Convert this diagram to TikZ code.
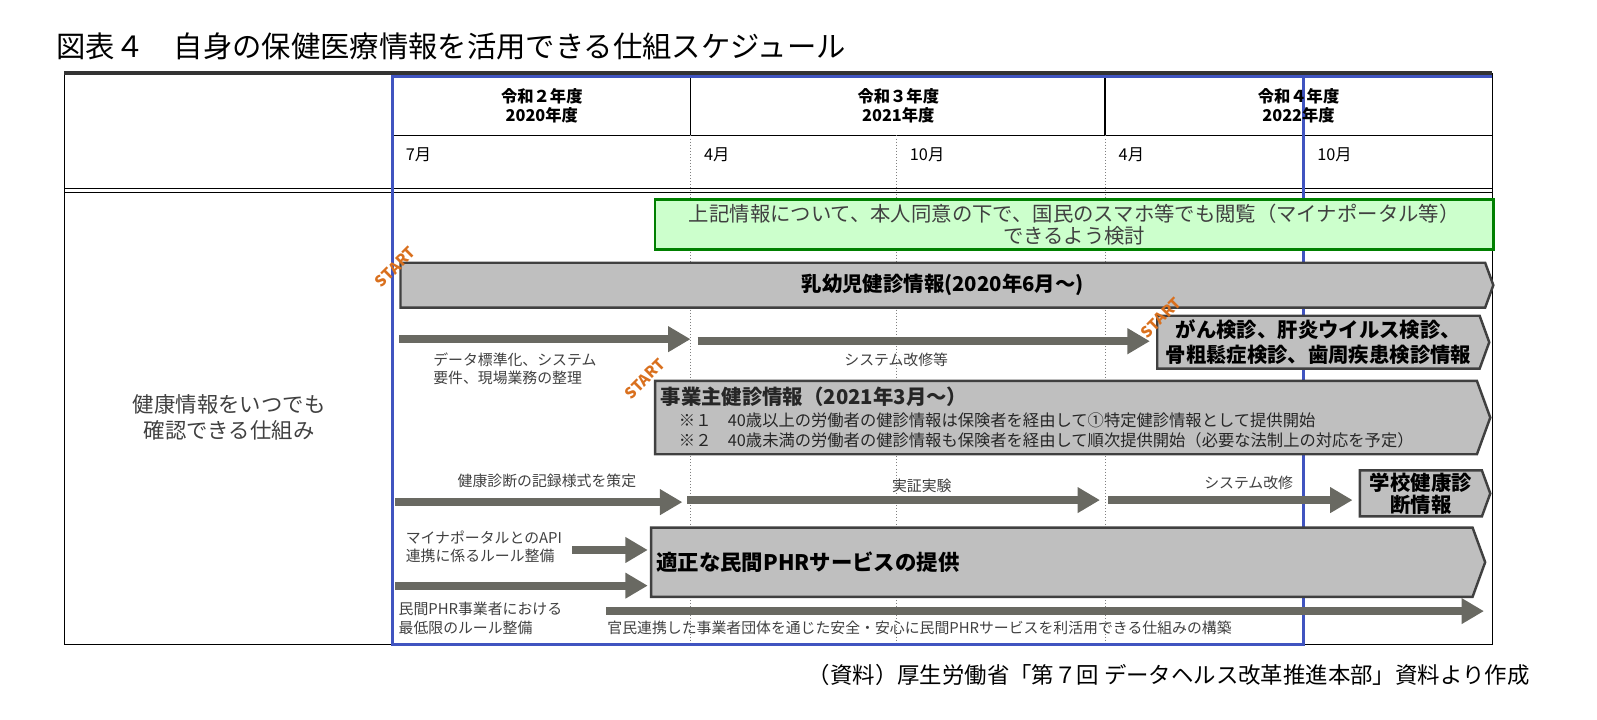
\documentclass[tikz,border=0pt]{standalone}
\usepackage{fontspec}
\setmainfont{Noto Sans CJK JP}
\usetikzlibrary{shapes, arrows.meta}
\definecolor{bargray}{RGB}{191,191,191}
\definecolor{barline}{RGB}{64,64,64}
\definecolor{arrowgray}{RGB}{105,105,98}
\definecolor{notegray}{RGB}{64,64,64}
\definecolor{stamporange}{RGB}{217,112,30}
\definecolor{planblue}{RGB}{64,84,192}
\definecolor{lightgreen}{RGB}{204,255,204}
\definecolor{boxgreen}{RGB}{0,128,0}

\begin{document}
\begin{tikzpicture}[x=0.5pt, y=-0.5pt,
        bar/.style = {draw=barline, fill=bargray, line width=1.2pt, signal, signal to=east, signal pointer angle=140, anchor=west, inner sep=2pt, font=\bfseries\fontsize{10}{12.5}\selectfont},
        flow/.style = {arrowgray, line width=4pt, -{Triangle[length=11pt, width=12pt]}},
        note/.style = {text=notegray, font=\fontsize{7.3}{9}\selectfont, align=left, inner sep=0pt},
        stamp/.style = {text=stamporange, font=\bfseries\fontsize{7.5}{7.5}\selectfont, rotate=45, inner sep=0pt},
        year/.style = {font=\bfseries\fontsize{8}{9.5}\selectfont, align=center},
        month/.style = {font=\fontsize{8}{10}\selectfont, anchor=west, inner sep=0pt},
        grid/.style = {densely dotted, gray, line width=0.5pt}]
                \useasboundingbox (0, 0) rectangle (1568, 706);

                \node[anchor=west, inner sep=0pt, font=\fontsize{14.4}{16}\selectfont] at (55, 46) (Title) {図表４　自身の保健医療情報を活用できる仕組スケジュール};

                \draw[line width=0.5pt] (63, 72) rectangle (1465, 633);
                \draw[line width=2pt, black!80] (63, 72) -- (1465, 72);
                \draw[line width=0.5pt] (385, 133) -- (1465, 133);
                \draw[line width=0.5pt] (63, 185) -- (1465, 185);
                \draw[line width=0.5pt] (63, 189) -- (1465, 189);
                \draw[line width=0.6pt] (678, 75) -- (678, 133);
                \draw[line width=0.6pt] (1085, 75) -- (1085, 133);
                \draw[grid] (678, 133) -- (678, 633);
                \draw[grid] (880, 133) -- (880, 633);
                \draw[grid] (1085, 133) -- (1085, 633);
                \draw[planblue, line width=1.5pt] (385, 75) rectangle (1280, 633);
                \draw[planblue, line width=1.5pt] (1280, 75) -- (1465, 75);

                \node[year] at (532, 104) (Y2020) {令和２年度\\2020年度};
                \node[year] at (882, 104) (Y2021) {令和３年度\\2021年度};
                \node[year] at (1275, 104) (Y2022) {令和４年度\\2022年度};
                \node[month] at (398, 152) (M7) {7月};
                \node[month] at (691, 152) (M4a) {4月};
                \node[month] at (893, 152) (M10a) {10月};
                \node[month] at (1098, 152) (M4b) {4月};
                \node[month] at (1293, 152) (M10b) {10月};

                \node[text=notegray, align=center, font=\fontsize{10.5}{13}\selectfont] at (225, 410) (Row) {健康情報をいつでも\\確認できる仕組み};

                \node[draw=boxgreen, fill=lightgreen, line width=1.2pt, anchor=west, minimum width=411.5pt, minimum height=24.5pt, inner sep=0pt, align=center, text=notegray, font=\fontsize{10}{10.5}\selectfont] at (642, 220.5) (Green) {上記情報について、本人同意の下で、国民のスマホ等でも閲覧（マイナポータル等）\\できるよう検討};

                \node[bar, minimum width=536.5pt, minimum height=22pt] at (392, 280) (Infant) {乳幼児健診情報(2020年6月～)};
                \node[bar, minimum width=163pt, minimum height=26pt, inner sep=1pt, align=center] at (1135, 336) (Cancer) {がん検診、肝炎ウイルス検診、\\骨粗鬆症検診、歯周疾患検診情報};
                \node[bar, minimum width=410pt, minimum height=36pt, text width=398pt, align=left, font=\fontsize{8}{9.8}\selectfont, text=black!85] at (642, 410) (Employer) {{\bfseries\fontsize{10}{12}\selectfont 事業主健診情報（2021年3月～）}\\[1pt]\hspace*{9pt}※１　40歳以上の労働者の健診情報は保険者を経由して①特定健診情報として提供開始\\\hspace*{9pt}※２　40歳未満の労働者の健診情報も保険者を経由して順次提供開始（必要な法制上の対応を予定）};
                \node[bar, minimum width=64pt, minimum height=22.5pt, inner sep=1pt, align=center, font=\bfseries\fontsize{10}{11}\selectfont] at (1334, 484.5) (School) {学校健康診\\断情報};
                \node[bar, minimum width=409.5pt, minimum height=34pt, text width=398pt, align=left, font=\bfseries\fontsize{10.5}{12}\selectfont] at (638, 552) (PHR) {適正な民間PHRサービスの提供};

                \node[stamp] at (388, 262) (S1) {START};
                \node[stamp] at (1140, 312) (S2) {START};
                \node[stamp] at (633, 372) (S3) {START};

                \node[note, anchor=west] at (425, 362) (L1) {データ標準化、システム\\要件、現場業務の整理};
                \node[note] at (880, 353) (L2) {システム改修等};
                \node[note] at (537, 472) (L3) {健康診断の記録様式を策定};
                \node[note] at (905, 477) (L4) {実証実験};
                \node[note] at (1226, 474) (L5) {システム改修};
                \node[note, anchor=west] at (398, 537) (L6) {マイナポータルとのAPI\\連携に係るルール整備};
                \node[note, anchor=west] at (391, 607) (L7) {民間PHR事業者における\\最低限のルール整備};
                \node[note, anchor=west] at (596, 616) (L8) {官民連携した事業者団体を通じた安全・安心に民間PHRサービスを利活用できる仕組みの構築};

                \coordinate (A1s) at (392, 333);
                \coordinate (A1e) at (678, 333);
                \coordinate (A2s) at (685, 335);
                \coordinate (A3s) at (388, 493);
                \coordinate (A3e) at (670, 493);
                \coordinate (A4s) at (675, 491);
                \coordinate (A4e) at (1080, 491);
                \coordinate (A5s) at (1088, 491);
                \coordinate (A6s) at (562, 540);
                \coordinate (A7s) at (388, 575);
                \coordinate (A8s) at (595, 600);
                \coordinate (A8e) at (1457, 600);

                \draw[flow] (A1s) -- (A1e);
                \draw[flow, shorten >=3pt] (A2s) -- (A2s -| Cancer.west);
                \draw[flow] (A3s) -- (A3e);
                \draw[flow] (A4s) -- (A4e);
                \draw[flow, shorten >=3pt] (A5s) -- (A5s -| School.west);
                \draw[flow, shorten >=1pt] (A6s) -- (A6s -| PHR.west);
                \draw[flow, shorten >=1pt] (A7s) -- (A7s -| PHR.west);
                \draw[flow] (A8s) -- (A8e);

                \node[anchor=east, inner sep=0pt, font=\fontsize{11}{13}\selectfont] at (1502, 663) (Source) {（資料）厚生労働省「第７回 データヘルス改革推進本部」資料より作成};
            \end{tikzpicture}
\end{document}
